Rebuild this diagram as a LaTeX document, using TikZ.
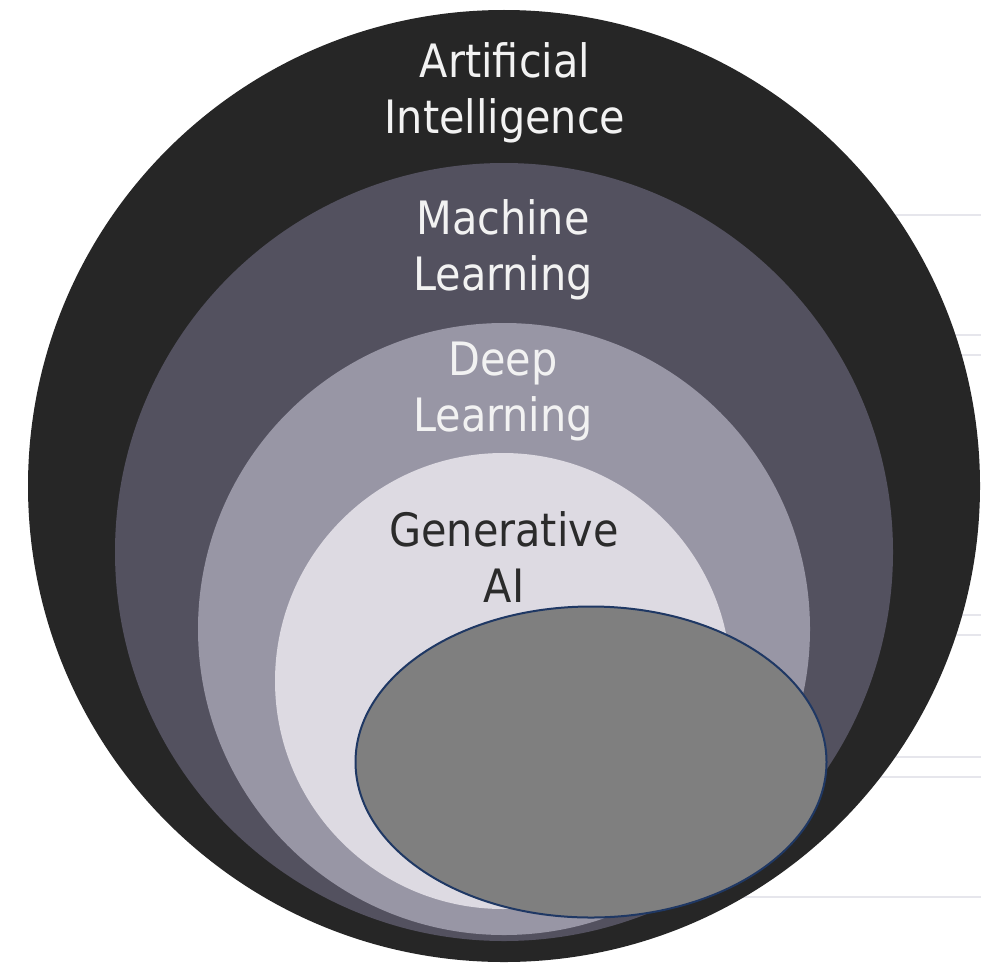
\documentclass[tikz,border=0pt]{standalone}
\usepackage{fontspec}
\usetikzlibrary{shapes.geometric}
\setmainfont{DejaVu Sans Condensed}
\definecolor{aicol}{HTML}{262626}
\definecolor{mlcol}{HTML}{53515F}
\definecolor{dlcol}{HTML}{9896A5}
\definecolor{gacol}{HTML}{DDDAE2}
\definecolor{blobfill}{HTML}{7F7F7F}
\definecolor{blobedge}{HTML}{1F3864}
\definecolor{rulecol}{HTML}{E6E6EC}
\definecolor{lighttext}{HTML}{F2F2F2}
\definecolor{darktext}{HTML}{2B2B2B}
\begin{document}
\begin{tikzpicture}[x=1pt,y=-1pt,
  lbl/.style={align=center,anchor=base,inner sep=0pt,font=\fontsize{46}{56}\selectfont},
  faint/.style={draw=rulecol,line width=2pt}]
\useasboundingbox (0,0) rectangle (981,966);
\fill[white] (0,0) rectangle (981,966);
% faint background rules
\foreach \yy in {215,335,355,615,635,757,777,897}
  \draw[faint] (600,\yy) -- (981,\yy);
% nested circles
\fill[aicol] (504,486) circle [radius=476];
\fill[mlcol] (504,552) circle [radius=389];
\fill[dlcol] (504,629) circle [radius=306];
\fill[gacol] (503,681) circle [radius=228];
% labels (anchor = baseline of the last line)
\node[lbl,text=lighttext] (ai) at (505,133) {Artificial\\Intelligence};
\node[lbl,text=lighttext] (ml) at (503,290) {Machine\\Learning};
\node[lbl,text=lighttext] (dl) at (503,431) {Deep\\Learning};
\node[lbl,text=darktext] (ga) at (504,602) {Generative\\AI};
% grey ellipse
\node[draw=blobedge,fill=blobfill,line width=2pt,ellipse,minimum width=471pt,minimum height=311pt,inner sep=0pt] (blob) at (591,762) {};
\end{tikzpicture}
\end{document}
